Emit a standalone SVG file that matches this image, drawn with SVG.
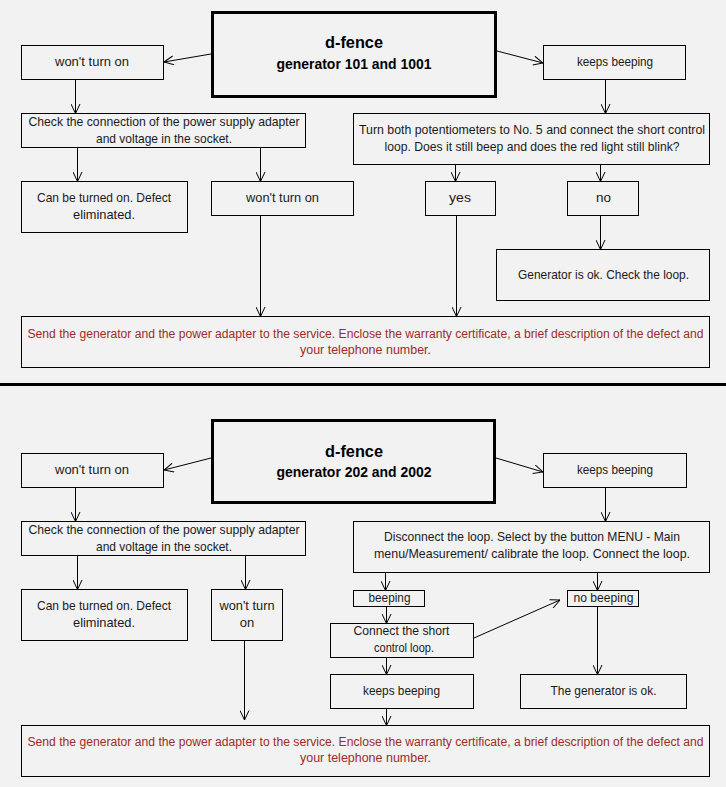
<svg xmlns="http://www.w3.org/2000/svg" width="726" height="787" viewBox="0 0 726 787">
<style>
.bx{fill:#f2f2f2;stroke:#000;stroke-width:1}
.tb{fill:#f2f2f2;stroke:#000;stroke-width:3}
.t{font-family:"Liberation Sans",Arial,sans-serif;font-size:13px;fill:#1a1a1a;text-anchor:middle}
.r{font-family:"Liberation Sans",Arial,sans-serif;font-size:12.5px;fill:#9e2a2b;text-anchor:middle}
.h1{font-family:"Liberation Sans",Arial,sans-serif;font-size:17px;font-weight:bold;fill:#000;text-anchor:middle}
.h2{font-family:"Liberation Sans",Arial,sans-serif;font-size:14px;font-weight:bold;fill:#000;text-anchor:middle}
.c{stroke:#000;stroke-width:1;fill:none;marker-end:url(#a)}
</style>
<defs>
<marker id="a" viewBox="0 0 10 10" refX="10" refY="5" markerWidth="10" markerHeight="10" markerUnits="userSpaceOnUse" orient="auto">
<path d="M0.5,0.5 L10,5 L0.5,9.5" fill="none" stroke="#000" stroke-width="1"/>
</marker>
</defs>
<rect x="0" y="0" width="726" height="787" fill="#f2f2f2"/>
<rect x="0" y="383" width="726" height="3" fill="#000"/>

<g id="connectors">
<path class="c" d="M211,54 L164,62"/>
<path class="c" d="M497,51 L543,63"/>
<path class="c" d="M75.5,79.5 V113.5"/>
<path class="c" d="M605.5,79.5 V113.5"/>
<path class="c" d="M77.5,147.5 V181.5"/>
<path class="c" d="M260.5,147.5 V181.5"/>
<path class="c" d="M455.5,164.5 V181.5"/>
<path class="c" d="M600.5,164.5 V181.5"/>
<path class="c" d="M260.5,215.5 V316.5"/>
<path class="c" d="M456.5,215.5 V316.5"/>
<path class="c" d="M600.5,215.5 V249.5"/>

<path class="c" d="M211,458 L164,470"/>
<path class="c" d="M496,458 L543,472"/>
<path class="c" d="M75.5,487.5 V521.5"/>
<path class="c" d="M605.5,487.5 V521.5"/>
<path class="c" d="M77.5,555.5 V589.5"/>
<path class="c" d="M245.5,555.5 V589.5"/>
<path class="c" d="M385.5,572.5 V590.5"/>
<path class="c" d="M597.5,572.5 V590.5"/>
<path class="c" d="M386.5,606.5 V623.5"/>
<path class="c" d="M474,638 L560,600"/>
<path class="c" d="M597.5,606.5 V674.5"/>
<path class="c" d="M386.5,657.5 V674.5"/>
<path class="c" d="M386.5,708.5 V725.5"/>
<path class="c" d="M244.5,640.5 V720"/>
</g>

<g id="title1">
<rect class="tb" x="212.5" y="12.5" width="283" height="84"/>
<text class="h1" x="354" y="48" textLength="58" lengthAdjust="spacingAndGlyphs">d-fence</text>
<text class="h2" x="354" y="69" textLength="155" lengthAdjust="spacingAndGlyphs">generator 101 and 1001</text>
</g>
<g id="t-wont1">
<rect class="bx" x="21.5" y="45.5" width="142" height="34"/>
<text class="t" x="92" y="66" textLength="74" lengthAdjust="spacingAndGlyphs">won't turn on</text>
</g>
<g id="t-beep1">
<rect class="bx" x="543.5" y="45.5" width="142" height="34"/>
<text class="t" x="615" y="66" textLength="76" lengthAdjust="spacingAndGlyphs">keeps beeping</text>
</g>
<g id="t-check1">
<rect class="bx" x="21.5" y="113.5" width="284" height="34"/>
<text class="t" x="164" y="126" textLength="271" lengthAdjust="spacingAndGlyphs">Check the connection of the power supply adapter</text>
<text class="t" x="164" y="143" textLength="136" lengthAdjust="spacingAndGlyphs">and voltage in the socket.</text>
</g>
<g id="t-turn">
<rect class="bx" x="353.5" y="113.5" width="356" height="51"/>
<text class="t" x="532" y="134" textLength="346" lengthAdjust="spacingAndGlyphs">Turn both potentiometers to No. 5 and connect the short control</text>
<text class="t" x="532" y="151" textLength="295" lengthAdjust="spacingAndGlyphs">loop. Does it still beep and does the red light still blink?</text>
</g>
<g id="t-can1">
<rect class="bx" x="21.5" y="181.5" width="166" height="51"/>
<text class="t" x="104" y="202" textLength="134" lengthAdjust="spacingAndGlyphs">Can be turned on. Defect</text>
<text class="t" x="104" y="219" textLength="62" lengthAdjust="spacingAndGlyphs">eliminated.</text>
</g>
<g id="t-wont2">
<rect class="bx" x="211.5" y="181.5" width="142" height="34"/>
<text class="t" x="282.5" y="202" textLength="73" lengthAdjust="spacingAndGlyphs">won't turn on</text>
</g>
<g id="t-yes">
<rect class="bx" x="425.5" y="181.5" width="70" height="34"/>
<text class="t" x="460" y="202" textLength="22" lengthAdjust="spacingAndGlyphs">yes</text>
</g>
<g id="t-no">
<rect class="bx" x="567.5" y="181.5" width="71" height="34"/>
<text class="t" x="603.5" y="202" textLength="15" lengthAdjust="spacingAndGlyphs">no</text>
</g>
<g id="t-genok">
<rect class="bx" x="496.5" y="249.5" width="213" height="51"/>
<text class="t" x="603.5" y="279" textLength="171" lengthAdjust="spacingAndGlyphs">Generator is ok. Check the loop.</text>
</g>
<g id="t-send">
<rect class="bx" x="21.5" y="316.5" width="688" height="51"/>
<text class="r" x="365.5" y="338" textLength="676" lengthAdjust="spacingAndGlyphs">Send the generator and the power adapter to the service. Enclose the warranty certificate, a brief description of the defect and</text>
<text class="r" x="365.5" y="354" textLength="131" lengthAdjust="spacingAndGlyphs">your telephone number.</text>
</g>

<g id="title2">
<rect class="tb" x="212.5" y="420.5" width="282" height="82"/>
<text class="h1" x="354" y="457" textLength="58" lengthAdjust="spacingAndGlyphs">d-fence</text>
<text class="h2" x="354" y="477" textLength="155" lengthAdjust="spacingAndGlyphs">generator 202 and 2002</text>
</g>
<g id="b-wont1">
<rect class="bx" x="21.5" y="453.5" width="142" height="34"/>
<text class="t" x="92" y="474" textLength="74" lengthAdjust="spacingAndGlyphs">won't turn on</text>
</g>
<g id="b-beep1">
<rect class="bx" x="543.5" y="453.5" width="143" height="34"/>
<text class="t" x="615" y="474" textLength="76" lengthAdjust="spacingAndGlyphs">keeps beeping</text>
</g>
<g id="b-check">
<rect class="bx" x="21.5" y="521.5" width="284" height="34"/>
<text class="t" x="164" y="534" textLength="271" lengthAdjust="spacingAndGlyphs">Check the connection of the power supply adapter</text>
<text class="t" x="164" y="551" textLength="136" lengthAdjust="spacingAndGlyphs">and voltage in the socket.</text>
</g>
<g id="b-disc">
<rect class="bx" x="353.5" y="521.5" width="356" height="51"/>
<text class="t" x="532" y="541" textLength="296" lengthAdjust="spacingAndGlyphs">Disconnect the loop. Select by the button MENU - Main</text>
<text class="t" x="532" y="558" textLength="316" lengthAdjust="spacingAndGlyphs">menu/Measurement/ calibrate the loop. Connect the loop.</text>
</g>
<g id="b-can">
<rect class="bx" x="21.5" y="589.5" width="166" height="51"/>
<text class="t" x="104" y="610" textLength="134" lengthAdjust="spacingAndGlyphs">Can be turned on. Defect</text>
<text class="t" x="104" y="627" textLength="62" lengthAdjust="spacingAndGlyphs">eliminated.</text>
</g>
<g id="b-wont2">
<rect class="bx" x="211.5" y="589.5" width="71" height="51"/>
<text class="t" x="247" y="610" textLength="55" lengthAdjust="spacingAndGlyphs">won't turn</text>
<text class="t" x="247" y="627">on</text>
</g>
<g id="b-beeping">
<rect class="bx" x="353.5" y="590.5" width="71" height="16"/>
<text class="t" x="389.5" y="602" textLength="42" lengthAdjust="spacingAndGlyphs">beeping</text>
</g>
<g id="b-nobeep">
<rect class="bx" x="567.5" y="590.5" width="71" height="16"/>
<text class="t" x="603.5" y="602" textLength="60" lengthAdjust="spacingAndGlyphs">no beeping</text>
</g>
<g id="b-connect">
<rect class="bx" x="330.5" y="623.5" width="143" height="34"/>
<text class="t" x="401.5" y="635" textLength="96" lengthAdjust="spacingAndGlyphs">Connect the short</text>
<text class="t" x="404" y="652" textLength="60" lengthAdjust="spacingAndGlyphs">control loop.</text>
</g>
<g id="b-beep2">
<rect class="bx" x="330.5" y="674.5" width="143" height="34"/>
<text class="t" x="401.5" y="695" textLength="77" lengthAdjust="spacingAndGlyphs">keeps beeping</text>
</g>
<g id="b-genok">
<rect class="bx" x="520.5" y="674.5" width="166" height="34"/>
<text class="t" x="603.5" y="695" textLength="106" lengthAdjust="spacingAndGlyphs">The generator is ok.</text>
</g>
<g id="b-send">
<rect class="bx" x="21.5" y="725.5" width="688" height="51"/>
<text class="r" x="365.5" y="746" textLength="676" lengthAdjust="spacingAndGlyphs">Send the generator and the power adapter to the service. Enclose the warranty certificate, a brief description of the defect and</text>
<text class="r" x="365.5" y="762" textLength="131" lengthAdjust="spacingAndGlyphs">your telephone number.</text>
</g>
</svg>
